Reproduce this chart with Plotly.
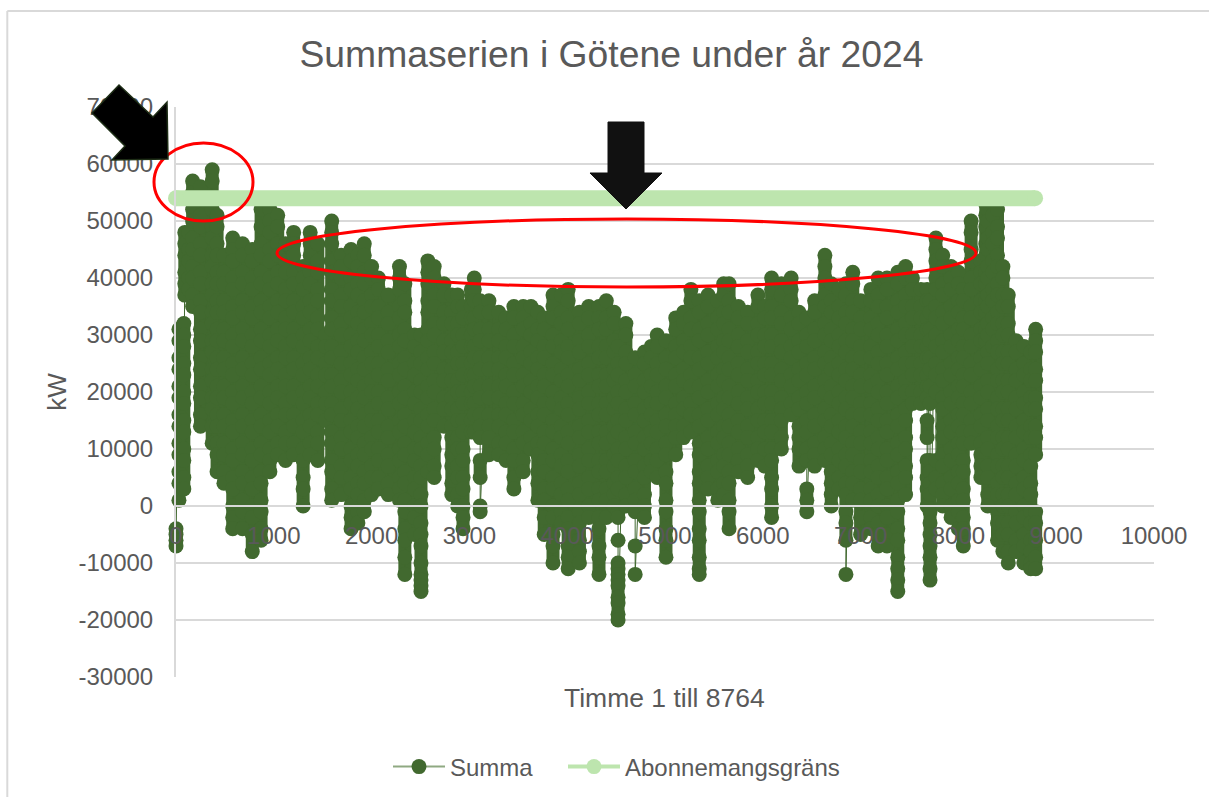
import plotly.graph_objects as go

SERIES_NAME = "Summa"
LIMIT_NAME = "Abonnemangsgräns"
TITLE = "Summaserien i Götene under år 2024"
X_TITLE = "Timme 1 till 8764"
Y_TITLE = "kW"

x_ticks = [0, 1000, 2000, 3000, 4000, 5000, 6000, 7000, 8000, 9000, 10000]
y_ticks = [-30000, -20000, -10000, 0, 10000, 20000, 30000, 40000, 50000, 60000, 70000]

limit_hours = [0, 8784]
limit_values = [54000, 54000]

column_hours = [
    0, 30, 80, 90, 130, 170, 250, 370, 420, 490, 580, 680, 780, 870, 960, 1040, 1120, 1203, 1300, 1372,
    1450, 1530, 1592, 1690, 1790, 1860, 1925, 2000, 2070, 2170, 2285, 2340, 2440, 2505, 2575, 2640, 2740, 2820, 2880, 2935,
    3020, 3050, 3110, 3200, 3300, 3375, 3455, 3550, 3630, 3700, 3765, 3855, 3940, 4010, 4125, 4220, 4325, 4400, 4480, 4520,
    4600, 4695, 4790, 4860, 4920, 5010, 5110, 5190, 5265, 5350, 5440, 5540, 5600, 5655, 5750, 5845, 5950, 6020, 6090, 6190,
    6290, 6370, 6450, 6530, 6635, 6700, 6780, 6850, 6920, 7000, 7105, 7180, 7270, 7380, 7460, 7530, 7617, 7680, 7710, 7770,
    7840, 7925, 8000, 8050, 8130, 8230, 8280, 8300, 8350, 8400, 8455, 8510, 8590, 8670, 8740, 8790,
]

# Readings in thousands of kW, one list per column
column_values_mw = [
    [-4,-5,-6,-7],
    [31,29,26,24,21,19,16,14,11,9,6,4,1],
    [32,30,28,25,23,20,18,15,13,10,8,5,3],
    [48,46,44,41,39,37],
    [48,45,43,40,38],
    [57,55,52,50,47,45,42,40,37,35],
    [56,54,51,49,46,44,41,39,36,34,31,29,26,24,21,19,16,14],
    [59,57,54,52,49,47,44,42,39,37,34,32,29,27,24,22,19,17,14,11],
    [51,49,46,44,41,39,36,34,31,29,26,24,21,19,16,14,11,9,6],
    [44,41,39,36,34,31,29,26,24,21,19,16,14,11,9,6,4],
    [47,45,43,40,38,35,33,30,28,25,23,20,18,15,13,10,8,5,3,0,-2,-4],
    [46,44,41,39,36,34,31,29,26,24,21,19,16,14,11,9,6,4,1,-1,-4],
    [45,43,40,38,35,33,30,28,25,23,20,18,15,13,10,8,5,3,0,-2,-5,-8],
    [52,49,46,44,41,39,36,34,31,29,26,24,21,19,16,14,11,9,6,4,1,-1,-4,-6],
    [52,50,48,45,43,40,38,35,33,30,28,25,23,20,18,15,13,10,8,6],
    [51,49,46,44,41,39,36,34,31,29,26,24,21,19,16,14,11,9],
    [46,43,41,38,36,33,31,28,26,23,21,18,16,13,11,8],
    [48,46,44,41,39,36,34,31,29,26,24,21,19,16,14,11,9],
    [42,40,38,35,33,30,28,25,23,20,18,15,13,10,8,5,3,0],
    [48,46,44,41,39,36,34,31,29,26,24,21,19,16,14,11,9],
    [46,43,41,38,36,33,31,28,26,23,21,18,16,13,11,8],
    [30,28,25,23,20,18,15],
    [50,48,46,43,41,38,36,33,31,28,26,23,21,18,16,13,11,8,6,3,1],
    [44,42,40,37,35,32,30,27,25,22,20,17,15,12,10,7,5,2],
    [45,43,40,38,35,33,30,28,25,23,20,18,15,13,10,8,5,3,0,-2,-4],
    [44,42,39,37,34,32,29,27,24,22,19,17,14,12,9,7,4,2,-1,-3],
    [46,44,41,39,36,34,31,29,26,24,21,19,16,14,11,9,6,4,1,-1],
    [42,40,37,35,32,30,27,25,22,20,17,15,12,10,7,5,2],
    [40,38,35,33,30,28,25,23,20,18,15,13,10,8,5,3],
    [37,34,32,29,27,24,22,19,17,14,12,9,7,4,2],
    [42,40,38,35,33,30,28,25,23,20,18,15,13,10,8,5,3,1],
    [39,36,34,31,29,26,24,21,19,16,14,11,9,6,4,1,-1,-4,-6,-9,-12],
    [30,28,25,23,20,18,15,13,10,8,5,3,0,-2,-5],
    [30,27,25,22,20,17,15,12,10,7,5,2,0,-3,-5,-7,-10,-12,-13,-14,-15],
    [43,41,39,36,34,31,29,26,24,21,19,16,14,11,9,6],
    [42,40,37,35,32,30,27,25,22,20,17,15,12,10,7,5],
    [39,37,34,32,29,27,24,22,19,17,14],
    [37,34,32,29,27,24,22,19,17,14,12,9,7,4,2],
    [37,35,32,30,27,25,22,20,17,15,12,10,7,5,2,0],
    [35,33,30,28,25,23,20,18,15,13,10,8,5,3,0,-2,-4],
    [38,35,33,30,28,25,23,20,18,15,13],
    [40,38,36,33,31,28,26,23,21,18,16,13],
    [36,34,31,29,26,24,21,19,16,14,12,8,5,0,-1],
    [36,34,31,29,26,24,21,19,16,14,12,9],
    [34,31,29,26,24,21,19,16,14,11,9],
    [33,31,28,26,23,21,18,16,13,11,8],
    [35,33,30,28,25,23,20,18,15,13,10,8,5,3],
    [35,33,31,28,26,23,21,18,16,13,11,8,6],
    [35,32,30,27,25,22,20,17,15,12,10],
    [34,31,29,26,24,21,19,16,14,11,9,6,4,1],
    [33,31,28,26,23,21,18,16,13,11,8,6,3,1,-2,-5],
    [37,35,33,30,28,25,23,20,18,15,13,10,8,5,3,0,-2,-5,-7,-10],
    [37,34,32,29,27,24,22,19,17,14,12,9,7,4,2,-1,-3],
    [38,36,33,31,28,26,23,21,18,16,13,11,8,6,3,1,-2,-4,-7,-9,-11],
    [34,32,29,27,24,22,19,17,14,12,9,7,4,2,-1,-3,-6,-8,-10],
    [35,33,30,28,25,23,20,18,15,13,10,8,5,3,0,-2],
    [35,33,31,28,26,23,21,18,16,13,11,8,6,3,1,-2,-4,-7,-9,-12],
    [36,33,31,28,26,23,21,18,16,13,11,8,6,3,1,-2],
    [34,32,29,27,24,22,19,17,14,12,9,7,4,2,0],
    [28,25,23,20,18,15,13,10,8,5,3,-1,-2,-6,-10,-11,-12,-13,-14,-16,-17,-19,-20],
    [32,30,27,25,22,20,17,15,12,10,7,5,2,0],
    [26,23,21,18,16,13,11,8,6,3,1,-1,-7,-12],
    [27,25,22,20,17,15,12,10,7,5,2,0,-2],
    [28,26,23,21,18,16,13,11,8,6],
    [30,28,25,23,20,18,15,13,10,8,5],
    [29,26,24,21,19,16,14,11,9,6,4,1,-1,-4,-6,-9],
    [33,31,28,26,23,21,18,16,14,12,9],
    [34,32,29,27,24,22,19,17,14,12],
    [38,36,33,31,28,26,23,21,18,16,13],
    [36,34,31,29,26,24,21,19,16,14,11,9,6,4,1,-1,-4,-6,-9,-11,-12],
    [37,35,32,30,27,25,22,20,17,15,12,10,7,5,3],
    [36,33,31,28,26,23,21,18,16,13,11,8,6,3,1],
    [39,37,34,32,29,27,24,22,19,17,14,12,9,7,4,2],
    [39,36,34,31,29,26,24,21,19,16,14,11,9,6,4,1,-1,-4],
    [35,33,30,28,25,23,20,18,15,13,10,8,6],
    [34,32,29,27,24,22,19,17,14,12,9,7,5],
    [37,35,32,30,27,25,22,20,17,15,12,10,8],
    [35,33,30,28,25,23,20,18,15,13,10,7],
    [40,38,35,33,30,28,25,23,20,18,15,13,10,8,5,3,0,-2],
    [39,37,34,32,29,27,24,22,19,17,15,12,10],
    [40,38,36,33,31,28,26,23,21,18,16],
    [34,32,29,27,24,22,19,17,14,12,10,7],
    [33,30,28,25,23,20,18,15,13,10,8,3,1,-1],
    [36,34,31,29,26,24,21,19,16,14,11,9,7],
    [44,42,40,37,35,32,30,27,25,22,20,17,15,12,10,8],
    [39,36,34,31,29,26,24,21,19,16,14,11,9,6,4,2,0],
    [38,35,33,30,28,25,23,20,18,15,13,10,8,5,3],
    [39,37,34,32,29,27,24,22,19,17,14,12,9,7,4,2,-1,-3,-6,-12],
    [41,39,36,34,31,29,26,24,21,19,16,14,11,9,6,4,1],
    [36,33,31,28,26,23,21,18,16,13,11,8,6,3,1,-2,-5],
    [38,36,33,31,28,26,23,21,18,16,13,11,8,6,3,1,-2,-4],
    [40,37,35,32,30,27,25,22,20,17,15,12,10,7,5,2,0,-3,-5,-7],
    [40,38,35,33,30,28,25,23,20,18,15,13,10,8,5,3,0,-2,-5,-7],
    [41,39,36,34,31,29,26,24,21,19,16,14,11,9,6,4,1,-1,-4,-6,-9,-11,-13,-15],
    [42,40,37,35,32,30,27,25,22,20,17,15,12,10,7,5,2],
    [40,38,35,33,30,28,25,23,20,18],
    [38,35,33,30,28,25,23,20,18],
    [38,36,33,31,28,26,23,21,19,15,12,8,5,3,0],
    [36,34,31,29,26,24,21,18,8,6,4,2,-1,-3,-5,-7,-9,-11,-13],
    [47,45,43,40,38,35,33,30,28,25,23,20,8,5,3],
    [44,42,39,37,34,32,29,27,24,22,19,17,14,12,9,7,4,2,0],
    [42,40,38,35,33,30,28,25,23,20,18,15,13,10,8,5,3,0,-2],
    [41,39,36,34,31,29,26,24,21,19,16,14,11,9,6,4,1,-1,-4],
    [38,36,33,31,28,26,23,21,18,16,13,11,8,6,3,1,-2,-4,-7],
    [50,48,45,43,40,38,35,33,30,28,25,23,20,18,15,13,11],
    [43,41,39,36,34,31,29,26,24,21,19,16,14,11,9,7,5],
    [53,51,49,46,44,41,39,36,34,31,29],
    [52,50,47,45,42,40,37,35,32,30,27,25,22,20,17,15,12,10,7,5,2,0],
    [53,51,48,46,43,41,38,36,33,31,28],
    [52,49,47,44,42,39,37,34,32,29,27,24,22,19,17,14,12,9,7,4,2,-1,-3,-6],
    [42,40,37,35,32,30,27,25,22,20,17,15,12,10,7,5,2,0,-3,-5,-8],
    [37,35,32,30,27,25,22,20,17,15,12,10,7,5,2,0,-3,-5,-8,-10],
    [29,27,24,22,19,17,14,12,9,7,4,2,-1,-3,-6,-8],
    [28,25,23,20,18,15,13,10,8,5,3,0,-2,-5,-7,-10],
    [27,24,22,19,17,14,12,9,7,4,2,-1,-3,-6,-8,-10,-11],
    [31,29,27,24,22,19,17,14,12,9,-1,-3,-6,-9,-11],
]

series_hours = [h for h, col in zip(column_hours, column_values_mw) for _ in col]
series_values = [v * 1000 for col in column_values_mw for v in col]

# Runs of close readings in a column read as one solid stroke of overlapping dots
run_x, run_y = [], []
for h, col in zip(column_hours, column_values_mw):
    for a, b in zip(col, col[1:]):
        if a - b <= 3:
            run_x += [h, h, None]
            run_y += [a * 1000, b * 1000, None]

INK = "#595959"
GRID = "#D9D9D9"
DARK = "#41692F"
LIGHT = "#BDE5AE"
FONT = "Liberation Sans, Arial, sans-serif"

# Plot rectangle in page pixels, used only for layout and the drawn annotations
L, R, T, B = 176, 1154, 107, 677
W, H = 1209, 797
def px(x):
    return (x - L) / (R - L)
def py(y):
    return (B - y) / (B - T)
def path(points):
    return "M " + " L ".join(f"{px(a):.5f},{py(b):.5f}" for a, b in points) + " Z"

fig = go.Figure()
fig.add_trace(go.Scatter(
    x=run_x, y=run_y, mode="lines", showlegend=False, hoverinfo="skip",
    line=dict(color=DARK, width=13), cliponaxis=False, connectgaps=False,
))
fig.add_trace(go.Scatter(
    x=series_hours, y=series_values, mode="lines+markers", name=SERIES_NAME, showlegend=False,
    line=dict(color=DARK, width=1), marker=dict(color=DARK, size=15), cliponaxis=False,
))
fig.add_trace(go.Scatter(
    x=limit_hours, y=limit_values, mode="lines+markers", name=LIMIT_NAME, showlegend=False,
    line=dict(color=LIGHT, width=16), marker=dict(color=LIGHT, size=16), cliponaxis=False,
))
fig.add_trace(go.Scatter(
    x=[None], y=[None], mode="lines+markers", name=SERIES_NAME, legend="legend",
    line=dict(color="#8FA982", width=2), marker=dict(color=DARK, size=15),
))
fig.add_trace(go.Scatter(
    x=[None], y=[None], mode="lines+markers", name=LIMIT_NAME, legend="legend2",
    line=dict(color=LIGHT, width=4), marker=dict(color=LIGHT, size=15),
))

shapes = [
    dict(type="line", xref="paper", yref="paper", x0=px(7.3), x1=px(1209), y0=py(11), y1=py(11),
         line=dict(color=GRID, width=2), layer="below"),
    dict(type="line", xref="paper", yref="paper", x0=px(7.3), x1=px(7.3), y0=py(11), y1=py(797),
         line=dict(color=GRID, width=2), layer="below"),
    dict(type="circle", xref="paper", yref="paper", x0=px(154), x1=px(253), y0=py(221), y1=py(143),
         line=dict(color="#FF0000", width=3), layer="above"),
    dict(type="circle", xref="paper", yref="paper", x0=px(277), x1=px(976), y0=py(287), y1=py(219),
         line=dict(color="#FF0000", width=3), layer="above"),
    dict(type="path", xref="paper", yref="paper", layer="above",
         path=path([(168, 159), (167, 102), (153, 117), (119, 85), (92, 113), (125, 146), (112, 160)]),
         fillcolor="#000000", line=dict(color="#1E2E16", width=1.5)),
    dict(type="path", xref="paper", yref="paper", layer="above",
         path=path([(608, 122), (644, 122), (644, 173), (662, 173), (626, 209), (590, 173), (608, 173)]),
         fillcolor="#111111", line=dict(color="#111111", width=1)),
]

fig.update_layout(
    width=W, height=H, margin=dict(l=L, r=W - R, t=T, b=H - B, autoexpand=False),
    paper_bgcolor="white", plot_bgcolor="white",
    font=dict(family=FONT, color=INK, size=24),
    title=dict(text=TITLE, x=611.5 / W, xanchor="center", y=1 - 54 / H, yanchor="middle",
               font=dict(size=37.3, color=INK, family=FONT)),
    xaxis=dict(range=[0, 10000], tickmode="array", tickvals=x_ticks, ticktext=[str(v) for v in x_ticks],
               showgrid=False, zeroline=False, showline=True, linecolor=GRID, linewidth=2,
               anchor="free", position=0.3, ticks="", ticklabelstandoff=8, tickfont=dict(size=24)),
    yaxis=dict(range=[-30000, 70000], tickmode="array", tickvals=y_ticks, ticktext=[str(v) for v in y_ticks],
               showgrid=True, gridcolor=GRID, gridwidth=2, zeroline=False, showline=True,
               linecolor=GRID, linewidth=2, ticks="", ticklabelstandoff=16, tickfont=dict(size=24),
               title=dict(text=Y_TITLE, font=dict(size=26), standoff=4)),
    legend=dict(x=px(388), xanchor="left", y=py(767), yanchor="middle",
                itemwidth=52, font=dict(size=24), bgcolor="rgba(0,0,0,0)", itemclick=False),
    legend2=dict(x=px(563), xanchor="left", y=py(767), yanchor="middle",
                 itemwidth=52, font=dict(size=24), bgcolor="rgba(0,0,0,0)", itemclick=False),
    annotations=[dict(text=X_TITLE, xref="paper", yref="paper", x=px(664), y=py(698), xanchor="center",
                      yanchor="middle", showarrow=False, font=dict(size=26.5, color=INK))],
    shapes=shapes,
)

fig.write_html("out.html", config=dict(displayModeBar=False),
               post_script="document.body.style.margin='0';document.body.style.overflow='hidden';")
